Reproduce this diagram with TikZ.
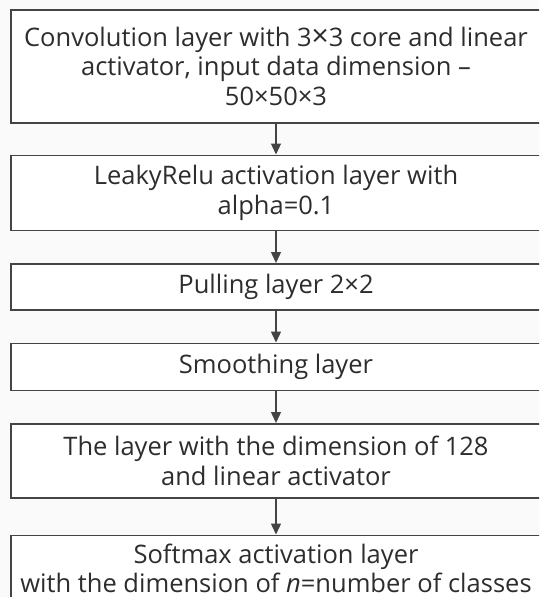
\documentclass[tikz,border=0pt]{standalone}
\usepackage{fontspec}
\setmainfont{Open Sans}
\usepackage{tikz}
\usetikzlibrary{positioning,arrows.meta}
\definecolor{linegray}{RGB}{68,68,68}
\definecolor{textgray}{RGB}{45,45,45}
\definecolor{paper}{RGB}{250,250,250}

\begin{document}
\begin{tikzpicture}[x=1pt,y=-1pt,
		layerbox/.style={draw=linegray, line width=1.5pt, fill=white, minimum width=530pt,
			inner sep=0pt, align=center, text=textgray, font=\fontsize{25.5}{29.5}\selectfont},
		flow/.style={draw=linegray, line width=1.3pt, -{Triangle[length=11pt,width=10pt]}}]
	% Khung hình
	\clip (0,0) rectangle (539,597);
	\fill[paper] (0,0) rectangle (539,597);
	
	% Các lớp
	\node[layerbox, minimum height=113pt, anchor=north] (conv) at (276,9)
		{Convolution layer with 3{\fontsize{30}{29.5}\selectfont ×}3 core and linear\\ activator, input data dimension --\\ 50×50×3};
	\node[layerbox, minimum height=75pt, below=31pt of conv] (leaky)
		{LeakyRelu activation layer with\\ alpha=0.1};
	\node[layerbox, minimum height=46pt, below=32pt of leaky] (pool)
		{Pulling layer 2×2};
	\node[layerbox, minimum height=47pt, below=32pt of pool] (smooth)
		{Smoothing layer};
	\node[layerbox, minimum height=74pt, below=32pt of smooth] (dense)
		{The layer with the dimension of 128\\ and linear activator};
	\node[layerbox, minimum height=66pt, below=36pt of dense] (softmax)
		{Softmax activation layer\\ with the dimension of \textit{n}=number of classes};
	
	% Mũi tên
	\foreach \a/\b in {conv/leaky, leaky/pool, pool/smooth, smooth/dense, dense/softmax} {
		\draw[flow] (\a.south) -- (\b.north);
	}
\end{tikzpicture}
\end{document}
